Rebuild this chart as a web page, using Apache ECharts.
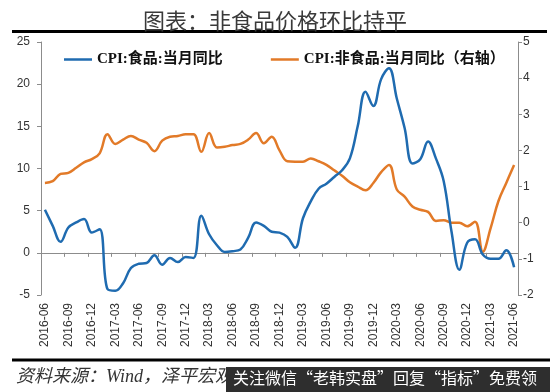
<!DOCTYPE html>
<html>
<head>
<meta charset="utf-8">
<script src="https://cdn.jsdelivr.net/npm/echarts@6/dist/echarts.min.js"></script>
<style>
html,body{margin:0;padding:0;background:#fff;}
#chart{width:550px;height:392px;}
</style>
</head>
<body>
<div id="chart"></div>
<script>
const months = [
  '2016-06','2016-07','2016-08','2016-09','2016-10','2016-11','2016-12',
  '2017-01','2017-02','2017-03','2017-04','2017-05','2017-06','2017-07','2017-08','2017-09','2017-10','2017-11','2017-12',
  '2018-01','2018-02','2018-03','2018-04','2018-05','2018-06','2018-07','2018-08','2018-09','2018-10','2018-11','2018-12',
  '2019-01','2019-02','2019-03','2019-04','2019-05','2019-06','2019-07','2019-08','2019-09','2019-10','2019-11','2019-12',
  '2020-01','2020-02','2020-03','2020-04','2020-05','2020-06','2020-07','2020-08','2020-09','2020-10','2020-11','2020-12',
  '2021-01','2021-02','2021-03','2021-04','2021-05','2021-06'
];
// CPI: food, YoY (%), left axis
const foodCPI = [
  5.1, 3.2, 1.3, 3.0, 3.6, 4.0, 2.4, 2.8, -4.3, -4.5,
  -3.6, -1.8, -1.3, -1.2, -0.3, -1.4, -0.6, -1.1, -0.5, -0.6,
  4.4, 2.2, 0.9, 0.1, 0.2, 0.4, 1.8, 3.6, 3.2, 2.5,
  2.4, 1.9, 0.6, 4.1, 6.1, 7.6, 8.2, 9.0, 9.8, 11.2,
  15.0, 19.1, 17.4, 20.6, 21.9, 18.3, 14.8, 10.6, 11.1, 13.2,
  11.2, 8.5, 2.5, -2.0, 1.2, 1.6, -0.2, -0.7, -0.7, 0.3,
  -1.7
];
// CPI: non-food, YoY (%), right axis
const nonFoodCPI = [
  1.1, 1.15, 1.35, 1.38, 1.52, 1.67, 1.76, 1.92, 2.45, 2.18,
  2.3, 2.4, 2.3, 2.21, 1.98, 2.27, 2.38, 2.4, 2.45, 2.45,
  1.96, 2.48, 2.08, 2.1, 2.15, 2.18, 2.3, 2.48, 2.2, 2.38,
  2.0, 1.7, 1.69, 1.69, 1.78, 1.7, 1.6, 1.45, 1.3, 1.12,
  1.0, 0.9, 1.1, 1.4, 1.6, 0.92, 0.72, 0.45, 0.36, 0.3,
  0.05, 0.07, 0.0, 0.0, -0.1, 0.03, -0.8, -0.15, 0.6, 1.1,
  1.6
];
const leftAxisRange = [-5, 25, 5];
const rightAxisRange = [-2, 5, 1];
const seriesNames = ['CPI:食品:当月同比', 'CPI:非食品:当月同比（右轴）'];

const chart = echarts.init(document.getElementById('chart'), null, {renderer: 'canvas'});
const axisGray = '#8c8c8c';
const numFont = "'Liberation Sans', Arial, sans-serif";
const cjk = "'Noto Sans CJK SC', sans-serif";

chart.setOption({
  animation: false,
  backgroundColor: '#fff',
  title: {
    text: '图表：非食品价格环比持平',
    left: 'center',
    top: 5,
    textStyle: {fontFamily: cjk, fontSize: 22, fontWeight: 'normal', color: '#3a3a3a'}
  },
  legend: {
    left: 59,
    top: 47,
    icon: 'rect',
    itemWidth: 28,
    itemHeight: 2.5,
    itemGap: 48,
    textStyle: {
      fontFamily: "'Liberation Serif', 'Noto Sans CJK SC', serif",
      fontWeight: 'bold',
      fontSize: 15,
      color: '#111'
    },
    data: seriesNames
  },
  grid: {left: 41, right: 32, top: 42, bottom: 97, containLabel: false},
  xAxis: [
    {
      type: 'category',
      data: months,
      boundaryGap: true,
      position: 'bottom',
      axisLine: {show: true, onZero: true, onZeroAxisIndex: 0, lineStyle: {color: axisGray, width: 1}},
      axisTick: {show: true, interval: 2, length: 4, lineStyle: {color: axisGray}},
      axisLabel: {show: false},
      splitLine: {show: false}
    },
    {
      type: 'category',
      data: months,
      boundaryGap: true,
      position: 'bottom',
      axisLine: {show: false, onZero: false},
      axisTick: {show: false},
      axisLabel: {interval: 2, rotate: 90, margin: 8, fontSize: 12, color: '#333', fontFamily: numFont},
      splitLine: {show: false}
    }
  ],
  yAxis: [
    {
      type: 'value',
      position: 'left',
      min: leftAxisRange[0], max: leftAxisRange[1], interval: leftAxisRange[2],
      axisLine: {show: true, lineStyle: {color: axisGray}},
      axisTick: {show: true, length: 4, lineStyle: {color: axisGray}},
      axisLabel: {fontSize: 12, color: '#333', fontFamily: numFont, margin: 11},
      splitLine: {show: false}
    },
    {
      type: 'value',
      position: 'right',
      min: rightAxisRange[0], max: rightAxisRange[1], interval: rightAxisRange[2],
      axisLine: {show: true, lineStyle: {color: axisGray}},
      axisTick: {show: true, length: 4, lineStyle: {color: axisGray}},
      axisLabel: {fontSize: 12, color: '#333', fontFamily: numFont, margin: 5},
      splitLine: {show: false}
    }
  ],
  series: [
    {
      name: seriesNames[0],
      type: 'line',
      xAxisIndex: 0,
      yAxisIndex: 0,
      data: foodCPI,
      smooth: 0.4,
      symbol: 'none',
      lineStyle: {color: '#1f6bb0', width: 2.5},
      itemStyle: {color: '#1f6bb0'},
      z: 3
    },
    {
      name: seriesNames[1],
      type: 'line',
      xAxisIndex: 0,
      yAxisIndex: 1,
      data: nonFoodCPI,
      smooth: 0.4,
      symbol: 'none',
      lineStyle: {color: '#e27a28', width: 2.5},
      itemStyle: {color: '#e27a28'},
      z: 2
    }
  ],
  graphic: [
    {type: 'line', shape: {x1: 12, y1: 31.5, x2: 547, y2: 31.5}, style: {stroke: '#000', lineWidth: 3}, silent: true},
    {type: 'line', shape: {x1: 12, y1: 360, x2: 550, y2: 360}, style: {stroke: '#000', lineWidth: 3}, silent: true},
    {
      type: 'text', left: 16, top: 368,
      style: {
        text: '资料来源：Wind，泽平宏观',
        font: "italic 18px 'Liberation Serif', 'Noto Sans CJK SC', serif",
        fill: '#333'
      },
      silent: true
    },
    {type: 'rect', shape: {x: 226, y: 367, width: 324, height: 25}, style: {fill: '#2e2e2e'}, silent: true, z: 10},
    {
      type: 'text', left: 233, top: 370, z: 11,
      style: {
        text: '关注微信“老韩实盘”回复“指标”免费领',
        font: "16px 'Noto Sans CJK SC', sans-serif",
        fill: '#ffffff'
      },
      silent: true
    }
  ]
});
</script>
</body>
</html>
